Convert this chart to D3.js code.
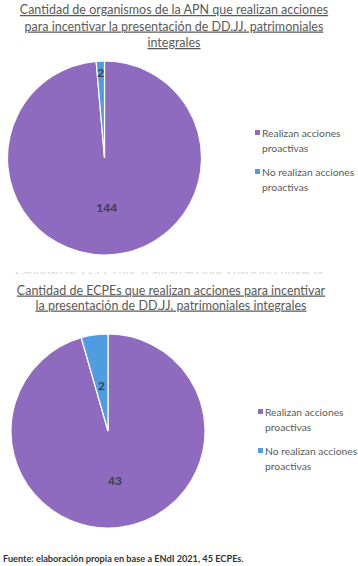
<!DOCTYPE html>
<html><head><meta charset="utf-8">
<script src="https://cdn.jsdelivr.net/npm/d3@7"></script>
<style>body{margin:0;background:#fff}svg{display:block}</style>
</head><body>
<script>
const categories = ["Realizan acciones proactivas", "No realizan acciones proactivas"];
const legendLines = [["Realizan acciones", "proactivas"], ["No realizan acciones", "proactivas"]];
const valuesAPN = [144, 2];
const valuesECPE = [43, 2];
const title1 = ["Cantidad de organismos de la APN que realizan acciones", "para incentivar la presentación de DD.JJ. patrimoniales", "integrales"];
const title2 = ["Cantidad de ECPEs que realizan acciones para incentivar", "la presentación de DD.JJ. patrimoniales integrales"];
const ghost = "Cantidad de ECPEs que realizan acciones para incentivar la";
const footer = "Fuente: elaboración propia en base a ENdI 2021, 45 ECPEs.";
const colors = ["#8f6bc0", "#4f9de0"];

const W = 358, H = 566;
const svg = d3.select("body").append("svg").attr("width", W).attr("height", H)
  .style("font-family", "Lato, 'Open Sans', sans-serif");

const color = d3.scaleOrdinal().domain(categories).range(colors);

function titleBlock(lines, cx, y0, lh) {
  lines.forEach((t, i) => {
    svg.append("text").attr("x", cx).attr("y", y0 + i * lh)
      .attr("text-anchor", "middle").attr("font-size", 12.5).attr("fill", "#5a5a5a")
      .attr("text-decoration", "underline").text(t);
  });
}

function pieChart(values, cx, cy, r, labelR, legX, legY) {
  const data = categories.map((c, i) => ({cat: c, v: values[i]}));
  const pie = d3.pie().sort(null).value(d => d.v);
  const arcs = pie(data);
  const arc = d3.arc().innerRadius(0).outerRadius(r);
  const g = svg.append("g").attr("transform", `translate(${cx},${cy})`);
  g.selectAll("path").data(arcs).join("path")
    .attr("d", arc).attr("fill", d => color(d.data.cat))
    .attr("stroke", "#fff").attr("stroke-width", 1.2);
  g.selectAll("text.lab").data(arcs).join("text").attr("class", "lab")
    .attr("transform", (d, i) => {
      const a = (d.startAngle + d.endAngle) / 2;
      const rr = labelR[i];
      return `translate(${rr * Math.sin(a)},${-rr * Math.cos(a)})`;
    })
    .attr("text-anchor", "middle").attr("dy", "0.35em")
    .attr("font-size", 12).attr("font-weight", "bold").attr("fill", "#3d3d4d")
    .text(d => d.data.v);
  const lg = svg.append("g").attr("transform", `translate(${legX},${legY})`);
  categories.forEach((c, i) => {
    const y = i * 39;
    lg.append("rect").attr("x", 0).attr("y", y - 3).attr("width", 5).attr("height", 5).attr("fill", color(c));
    legendLines[i].forEach((t, j) => {
      lg.append("text").attr("x", 7).attr("y", y + j * 15).attr("dy", "0.35em")
        .attr("font-size", 10.3).attr("fill", "#595959").text(t);
    });
  });
}

titleBlock(title1, 174, 14, 16.5);
pieChart(valuesAPN, 104.5, 158, 97, [50, 85], 255, 133);

// faint, mostly hidden line of text left between the two charts
svg.append("clipPath").attr("id", "ghostclip").append("rect")
  .attr("x", 0).attr("y", 272).attr("width", W).attr("height", 2);
svg.append("text").attr("x", 15).attr("y", 275).attr("font-size", 12)
  .attr("fill", "#d4d4d4").attr("clip-path", "url(#ghostclip)").text(ghost);

titleBlock(title2, 171, 294.5, 15);
pieChart(valuesECPE, 108, 431, 97, [50, 46], 258, 412);

svg.append("text").attr("x", 3).attr("y", 562).attr("font-size", 9.2).attr("font-weight", "bold")
  .attr("fill", "#333").text(footer);
</script>
</body></html>
